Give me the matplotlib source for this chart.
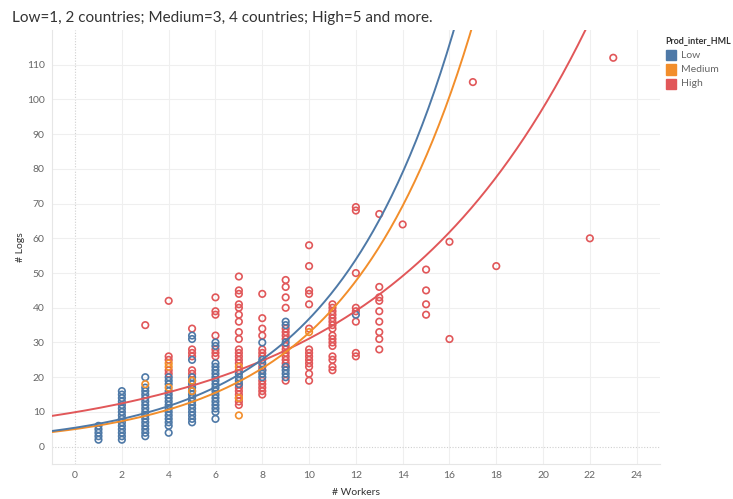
import numpy as np
import matplotlib
matplotlib.use("Agg")
import matplotlib.pyplot as plt
from matplotlib import patches

plt.rcParams['font.family'] = ['Lato', 'DejaVu Sans']

# # Workers -> list of # Logs
low_points = {
    1: [6, 5, 4, 3, 2],
    2: [16, 15, 14, 13, 12, 11, 10, 9, 8, 7, 6, 5, 4, 3, 2],
    3: [20, 17, 16, 15, 14, 13, 12, 11, 10, 9, 8, 7, 6, 5, 4, 3],
    4: [20, 19, 18, 16, 15, 14, 13, 12, 11, 10, 9, 8, 7, 6, 4],
    5: [32, 31, 25, 20, 19, 18, 17, 16, 15, 14, 13, 12, 11, 10, 9, 8, 7],
    6: [30, 29, 24, 23, 22, 21, 20, 19, 18, 17, 16, 15, 14, 13, 12, 11, 10, 8],
    7: [21, 20, 19, 18],
    8: [30, 25, 24, 22, 21, 20],
    9: [36, 35, 30, 23, 22, 21, 20],
    12: [38],
}
medium_points = {
    3: [18],
    4: [24, 23, 17],
    5: [19, 16],
    7: [23, 14, 9],
    10: [33],
}
high_points = {
    3: [35],
    4: [42, 26, 25, 22, 21],
    5: [34, 28, 27, 26, 22, 21],
    6: [43, 39, 38, 32, 28, 27, 26],
    7: [49, 45, 44, 41, 40, 38, 36, 33, 31, 28, 27, 26, 25, 24, 22, 18, 17, 16, 15, 14, 13, 12],
    8: [44, 37, 34, 32, 28, 27, 26, 23, 22, 19, 18, 17, 16, 15],
    9: [48, 46, 43, 40, 34, 33, 32, 31, 29, 28, 27, 26, 25, 24, 23, 19],
    10: [58, 52, 45, 44, 41, 34, 28, 27, 26, 25, 24, 23, 21, 19],
    11: [41, 40, 39, 38, 37, 36, 35, 34, 32, 31, 30, 29, 26, 25, 23, 22],
    12: [69, 68, 50, 40, 39, 36, 27, 26],
    13: [67, 46, 43, 42, 39, 36, 33, 31, 28],
    14: [64],
    15: [51, 45, 41, 38],
    16: [59, 31],
    17: [105],
    18: [52],
    22: [60],
    23: [112],
}

# exponential trend lines y = a*exp(b*x)
low_trend = (5.45, 0.191)
medium_trend = (5.06, 0.187)
high_trend = (9.92, 0.1143)

categories = ['Low', 'Medium', 'High']
colors = {'Low': '#4E79A7', 'Medium': '#F28E2B', 'High': '#E15759'}
points = {'Low': low_points, 'Medium': medium_points, 'High': high_points}
trends = {'Low': low_trend, 'Medium': medium_trend, 'High': high_trend}

x_ticks = list(range(0, 25, 2))
y_ticks = list(range(0, 111, 10))

fig = plt.figure(figsize=(7.33, 4.99), dpi=100, facecolor='w')
ax = fig.add_axes([0.0705, 0.0701, 0.83, 0.8698])
ax.set_xlim(-1, 25)
ax.set_ylim(-5, 120)

# grid, zero lines dotted
for t in x_ticks:
    if t == 0:
        ax.axvline(t, color='#d0d0d0', lw=0.8, ls=(0, (1, 1.5)), zorder=0)
    else:
        ax.axvline(t, color='#efefef', lw=0.8, zorder=0)
for t in y_ticks:
    if t == 0:
        ax.axhline(t, color='#d0d0d0', lw=0.8, ls=(0, (1, 1.5)), zorder=0)
    else:
        ax.axhline(t, color='#efefef', lw=0.8, zorder=0)

# points
for cat in ['High', 'Low', 'Medium']:
    d = points[cat]
    xs = [k for k, v in d.items() for _ in v]
    ys = [y for v in d.values() for y in v]
    ax.scatter(xs, ys, s=22, facecolors='none', edgecolors=colors[cat], linewidths=1.2, zorder=3)

# trend lines
xx = np.linspace(-1, 25, 400)
for cat in ['High', 'Medium', 'Low']:
    a, b = trends[cat]
    ax.plot(xx, a * np.exp(b * xx), color=colors[cat], lw=1.4, zorder=4)

ax.set_xticks(x_ticks)
ax.set_yticks(y_ticks)
ax.tick_params(length=0, labelsize=7.5, labelcolor='#666666', pad=5)
for s in ['top', 'right']:
    ax.spines[s].set_visible(False)
for s in ['left', 'bottom']:
    ax.spines[s].set_color('#e6e6e6')
    ax.spines[s].set_linewidth(0.8)

ax.set_xlabel('# Workers', fontsize=7.5, color='#333333', labelpad=6)
ax.set_ylabel('# Logs', fontsize=7.5, color='#333333', labelpad=1)

fig.text(12 / 733, 1 - 18 / 499, 'Low=1, 2 countries; Medium=3, 4 countries; High=5 and more.',
         fontsize=11, color='#333333', va='center', ha='left')

# legend
fig.text(665 / 733, 1 - 41 / 499, 'Prod_inter_HML', fontsize=6.4, weight='bold',
         color='#333333', va='center', ha='left')
for i, cat in enumerate(categories):
    yc = 55 + i * 14.5
    fig.add_artist(patches.Rectangle((666 / 733, 1 - (yc + 5) / 499), 10 / 733, 10 / 499,
                                     transform=fig.transFigure, color=colors[cat]))
    fig.text(681 / 733, 1 - yc / 499, cat, fontsize=7.5, color='#666666', va='center', ha='left')

plt.savefig('out.png', dpi=100)
